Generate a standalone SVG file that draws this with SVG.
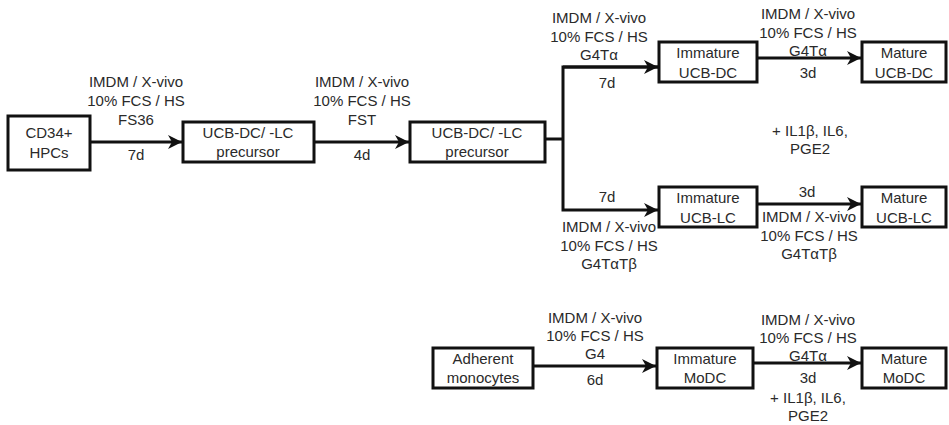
<svg xmlns="http://www.w3.org/2000/svg" width="949" height="425" viewBox="0 0 949 425">
<style>
text{font-family:"Liberation Sans",Arial,sans-serif;font-size:15px;fill:#2a2a2a;text-anchor:middle}
.box{fill:#fff;stroke:#111;stroke-width:3}
.ln{fill:none;stroke:#111;stroke-width:3}
</style>
<defs>
<marker id="ah" markerUnits="userSpaceOnUse" markerWidth="16" markerHeight="16" refX="15" refY="8" orient="auto">
<path d="M1,1 L15,8 L1,15 L5,8 z" fill="#111"/>
</marker>
</defs>
<rect width="949" height="425" fill="#fff"/>
<g id="connectors">
<line class="ln" x1="90" y1="142" x2="182" y2="142" marker-end="url(#ah)"/>
<line class="ln" x1="314" y1="142" x2="409" y2="142" marker-end="url(#ah)"/>
<polyline class="ln" points="545,139 563,139"/>
<polyline class="ln" points="659,67 563,67 563,210 658,210" marker-end="url(#ah)"/>
<line class="ln" x1="563" y1="67" x2="658" y2="67" marker-end="url(#ah)"/>
<line class="ln" x1="757" y1="58" x2="861" y2="58" marker-end="url(#ah)"/>
<line class="ln" x1="757" y1="204" x2="861" y2="204" marker-end="url(#ah)"/>
<line class="ln" x1="533" y1="366" x2="656" y2="366" marker-end="url(#ah)"/>
<line class="ln" x1="753" y1="363" x2="861" y2="363" marker-end="url(#ah)"/>
</g>
<g id="labels">
<text x="136" y="87">IMDM  / X-vivo</text>
<text x="136" y="106">10% FCS / HS</text>
<text x="136" y="125">FS36</text>
<text x="136" y="160">7d</text>
<text x="362" y="87">IMDM / X-vivo</text>
<text x="362" y="106">10% FCS / HS</text>
<text x="362" y="125">FST</text>
<text x="362" y="160">4d</text>
<text x="599" y="23">IMDM / X-vivo</text>
<text x="599" y="42">10% FCS / HS</text>
<text x="599" y="60">G4Tα</text>
<text x="607" y="88">7d</text>
<text x="808" y="19">IMDM / X-vivo</text>
<text x="808" y="38">10% FCS / HS</text>
<text x="808" y="56">G4Tα</text>
<text x="808" y="78">3d</text>
<text x="810" y="136">+ IL1β, IL6,</text>
<text x="810" y="154">PGE2</text>
<text x="607" y="202">7d</text>
<text x="609" y="232">IMDM / X-vivo</text>
<text x="609" y="251">10% FCS / HS</text>
<text x="609" y="269">G4TαTβ</text>
<text x="807" y="197">3d</text>
<text x="809" y="222">IMDM / X-vivo</text>
<text x="809" y="241">10% FCS / HS</text>
<text x="809" y="259">G4TαTβ</text>
<text x="595" y="323">IMDM / X-vivo</text>
<text x="595" y="341">10% FCS / HS</text>
<text x="595" y="359">G4</text>
<text x="595" y="385">6d</text>
<text x="808" y="325">IMDM / X-vivo</text>
<text x="808" y="343">10% FCS / HS</text>
<text x="808" y="361">G4Tα</text>
<text x="808" y="383">3d</text>
<text x="808" y="403">+ IL1β, IL6,</text>
<text x="808" y="421">PGE2</text>
</g>
<g id="cd34"><rect class="box" x="8" y="116" width="82" height="54"/><text x="49" y="138">CD34+</text><text x="49" y="158">HPCs</text></g>
<g id="prec1"><rect class="box" x="183" y="122" width="131" height="40"/><text x="248" y="138">UCB-DC/ -LC</text><text x="248" y="157">precursor</text></g>
<g id="prec2"><rect class="box" x="410" y="122" width="135" height="40"/><text x="477" y="138">UCB-DC/ -LC</text><text x="477" y="157">precursor</text></g>
<g id="imm-ucb-dc"><rect class="box" x="659" y="42" width="98" height="40"/><text x="708" y="58">Immature</text><text x="708" y="78">UCB-DC</text></g>
<g id="mat-ucb-dc"><rect class="box" x="862" y="42" width="84" height="40"/><text x="904" y="58">Mature</text><text x="904" y="78">UCB-DC</text></g>
<g id="imm-ucb-lc"><rect class="box" x="659" y="187" width="98" height="40"/><text x="708" y="203">Immature</text><text x="708" y="223">UCB-LC</text></g>
<g id="mat-ucb-lc"><rect class="box" x="862" y="187" width="84" height="40"/><text x="904" y="203">Mature</text><text x="904" y="223">UCB-LC</text></g>
<g id="adherent"><rect class="box" x="433" y="348" width="100" height="40"/><text x="483" y="364">Adherent</text><text x="483" y="383">monocytes</text></g>
<g id="imm-modc"><rect class="box" x="657" y="348" width="96" height="40"/><text x="705" y="364">Immature</text><text x="705" y="383">MoDC</text></g>
<g id="mat-modc"><rect class="box" x="862" y="348" width="84" height="40"/><text x="904" y="364">Mature</text><text x="904" y="383">MoDC</text></g>
</svg>
